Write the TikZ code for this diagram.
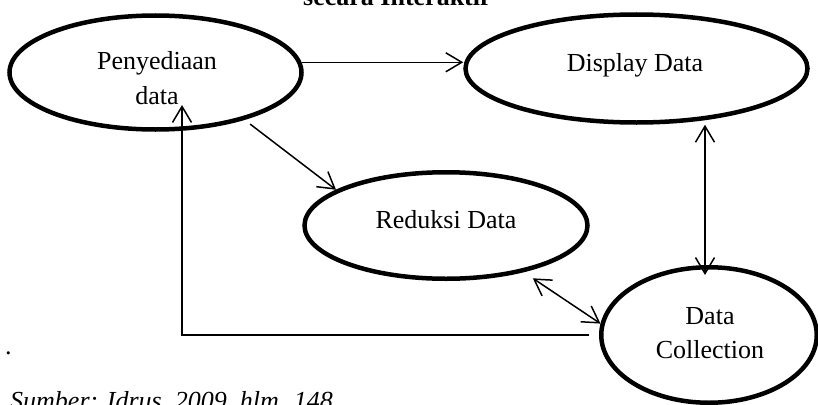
\documentclass[tikz,border=0pt]{standalone}
\usepackage{fontspec}
\setmainfont{Liberation Serif}
\usetikzlibrary{shapes.geometric,arrows.meta}
\begin{document}
\begin{tikzpicture}[x=1pt,y=-1pt,
  ell/.style={ellipse, draw, line width=4.5pt, inner sep=0pt},
  lbl/.style={anchor=base, inner sep=0pt, font=\fontsize{26}{34}\selectfont},
  conn/.style={line width=1.5pt},
  arr/.style={conn, -{Straight Barb[length=16pt,width=19pt]}},
  darr/.style={conn, {Straight Barb[length=16pt,width=19pt]}-{Straight Barb[length=16pt,width=19pt]}},
]
\useasboundingbox (0,0) rectangle (818,404);
\node[ell, minimum width=292pt, minimum height=114pt] (pd) at (155.5,72.5) {};
\node[ell, minimum width=342pt, minimum height=108pt] (dd) at (636.5,68.5) {};
\node[ell, minimum width=283pt, minimum height=106.5pt] (rd) at (446,225.5) {};
\node[ell, minimum width=215.5pt, minimum height=135.5pt] (dc) at (709,335) {};

\node[lbl] (t1a) at (157,70) {Penyediaan};
\node[lbl] (t1b) at (157,104) {data};
\node[lbl] (t2) at (635,71) {Display Data};
\node[lbl] (t3) at (446,228) {Reduksi Data};
\node[lbl] (t4a) at (710,324) {Data};
\node[lbl] (t4b) at (710,358) {Collection};
\node[lbl, font=\fontsize{26}{34}\selectfont\bfseries] (title) at (396,6) {secara Interaktif};
\node[lbl, anchor=base west] (dot) at (5,354) {.};
\node[lbl, anchor=base west, font=\fontsize{26}{34}\selectfont\itshape] (src) at (10,409) {Sumber: Idrus, 2009, hlm. 148};

\draw[arr] (pd.4) -- (pd.4 -| dd.west);
\draw[arr, shorten <=7pt] (pd.-28) -- (rd.162);
\coordinate (vx) at (705,0);
\draw[darr, shorten >=-10pt] (vx |- dd.south) -- (vx |- dc.north);
\draw[darr, shorten <=11pt] (rd.-31) -- (dc.174);
\coordinate (up) at (182,105);
\draw[arr, shorten <=10pt] (dc.west) -| (up);
\end{tikzpicture}
\end{document}
